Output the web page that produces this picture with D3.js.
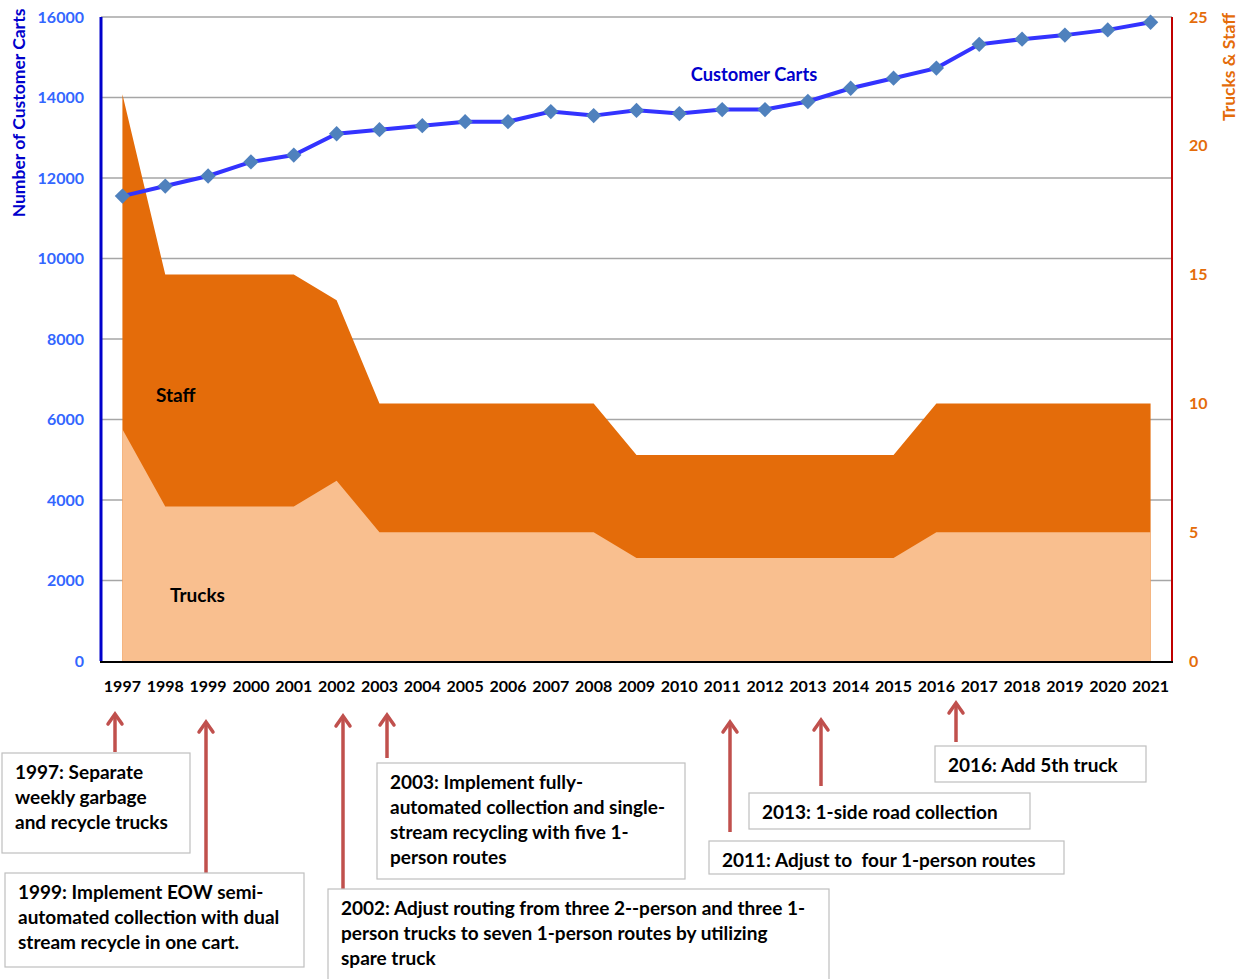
<!DOCTYPE html>
<html>
<head>
<meta charset="utf-8">
<script src="https://cdn.jsdelivr.net/npm/d3@7"></script>
<style>
  body { margin: 0; background: #fff; }
  svg text { font-family: Lato, "Open Sans", sans-serif; font-weight: 700; white-space: pre; }
</style>
</head>
<body>
<svg id="chart" width="1244" height="979"></svg>
<script>
const years = ['1997','1998','1999','2000','2001','2002','2003','2004','2005','2006','2007','2008',
    '2009','2010','2011','2012','2013','2014','2015','2016','2017','2018','2019','2020','2021'];
const customerCarts = [11550, 11800, 12050, 12400, 12570, 13100, 13200, 13300, 13400, 13400, 13650, 13550,
    13680, 13600, 13700, 13700, 13900, 14230, 14480, 14730, 15320, 15450, 15550, 15680, 15870];
const staff = [22, 15, 15, 15, 15, 14, 10, 10, 10, 10, 10, 10, 8, 8, 8, 8, 8, 8, 8, 10, 10, 10, 10, 10, 10];
const trucks = [9, 6, 6, 6, 6, 7, 5, 5, 5, 5, 5, 5, 4, 4, 4, 4, 4, 4, 4, 5, 5, 5, 5, 5, 5];
const cartTicks = [0, 2000, 4000, 6000, 8000, 10000, 12000, 14000, 16000];
const crewTicks = [0, 5, 10, 15, 20, 25];

// annotation boxes under the chart: arrow x, arrow top/bottom, box rect, text lines
const notes = [
    {ax: 115, ay1: 714, ay2: 752, box: [2, 753, 188, 100], lines: ['1997: Separate', 'weekly garbage', 'and recycle trucks']},
    {ax: 206, ay1: 722, ay2: 873, box: [5, 873, 299, 94], lines: ['1999: Implement EOW semi-', 'automated collection with dual', 'stream recycle in one cart.']},
    {ax: 343, ay1: 716, ay2: 889, box: [328, 889, 501, 100], lines: ['2002: Adjust routing from three 2--person and three 1-', 'person trucks to seven 1-person routes by utilizing', 'spare truck']},
    {ax: 387, ay1: 715, ay2: 758, box: [377, 763, 308, 116], lines: ['2003: Implement fully-', 'automated collection and single-', 'stream recycling with five 1-', 'person routes']},
    {ax: 730, ay1: 722, ay2: 832, box: [709, 841, 355, 33], lines: ['2011: Adjust to  four 1-person routes']},
    {ax: 821, ay1: 720, ay2: 786, box: [749, 793, 281, 36], lines: ['2013: 1-side road collection']},
    {ax: 956, ay1: 703, ay2: 742, box: [935, 746, 211, 36], lines: ['2016: Add 5th truck']}
];

const plot = {left: 101, right: 1172, top: 17, bottom: 661};

const svg = d3.select('#chart');

const x = d3.scaleBand()
    .domain(years)
    .range([plot.left, plot.right]);
const cx = d => x(d) + x.bandwidth() / 2;

const yCarts = d3.scaleLinear().domain([0, 16000]).range([plot.bottom, plot.top]);
const yCrew = d3.scaleLinear().domain([0, 25]).range([plot.bottom, plot.top]);

// gridlines
svg.append('g')
    .selectAll('line')
    .data(cartTicks.slice(1))
    .enter().append('line')
        .attr('x1', plot.left).attr('x2', plot.right)
        .attr('y1', d => yCarts(d)).attr('y2', d => yCarts(d))
        .attr('stroke', '#a6a6a6')
        .attr('stroke-width', 1.5);

// staff area (behind), trucks area (front)
const crewArea = values => d3.area()
    .x((d, i) => cx(years[i]))
    .y0(yCrew(0))
    .y1(d => yCrew(d))(values);

svg.append('path')
    .attr('d', crewArea(staff))
    .attr('fill', '#e46c0a');
svg.append('path')
    .attr('d', crewArea(trucks))
    .attr('fill', '#f9bf8f');

// axes
svg.append('line')
    .attr('x1', plot.left).attr('x2', plot.left)
    .attr('y1', plot.top).attr('y2', plot.bottom)
    .attr('stroke', '#0000cc').attr('stroke-width', 3);
svg.append('line')
    .attr('x1', plot.right).attr('x2', plot.right)
    .attr('y1', plot.top).attr('y2', plot.bottom + 1)
    .attr('stroke', '#c00000').attr('stroke-width', 2);
svg.append('line')
    .attr('x1', plot.left - 1).attr('x2', plot.right + 1)
    .attr('y1', plot.bottom + 1).attr('y2', plot.bottom + 1)
    .attr('stroke', '#000').attr('stroke-width', 2);

// left tick labels
svg.append('g')
    .selectAll('text')
    .data(cartTicks)
    .enter().append('text')
        .attr('x', 84)
        .attr('y', d => yCarts(d))
        .attr('dy', '0.35em')
        .attr('text-anchor', 'end')
        .attr('font-size', 16)
        .attr('fill', '#3366ff')
        .text(d => d);

// right tick labels
svg.append('g')
    .selectAll('text')
    .data(crewTicks)
    .enter().append('text')
        .attr('x', 1189)
        .attr('y', d => yCrew(d))
        .attr('dy', '0.35em')
        .attr('font-size', 16)
        .attr('fill', '#e46c0a')
        .text(d => d);

// x tick labels
svg.append('g')
    .selectAll('text')
    .data(years)
    .enter().append('text')
        .attr('x', d => cx(d))
        .attr('y', 692)
        .attr('text-anchor', 'middle')
        .attr('font-size', 16)
        .attr('fill', '#000')
        .text(d => d);

// axis titles
svg.append('text')
    .attr('transform', 'translate(25,113) rotate(-90)')
    .attr('text-anchor', 'middle')
    .attr('font-size', 17.5)
    .attr('fill', '#0000cc')
    .text('Number of Customer Carts');
svg.append('text')
    .attr('transform', 'translate(1235,67) rotate(-90)')
    .attr('text-anchor', 'middle')
    .attr('font-size', 17.5)
    .attr('fill', '#e46c0a')
    .text('Trucks & Staff');

// customer carts line
const line = d3.line()
    .x((d, i) => cx(years[i]))
    .y(d => yCarts(d));
svg.append('path')
    .attr('d', line(customerCarts))
    .attr('fill', 'none')
    .attr('stroke', '#3333ff')
    .attr('stroke-width', 4);
svg.append('g')
    .selectAll('path')
    .data(customerCarts)
    .enter().append('path')
        .attr('d', d3.symbol(d3.symbolDiamond2, 150))
        .attr('transform', (d, i) => 'translate(' + cx(years[i]) + ',' + yCarts(d) + ')')
        .attr('fill', '#4f81bd');

// series labels
svg.append('text').attr('x', 754).attr('y', 81).attr('text-anchor', 'middle')
    .attr('font-size', 18.3).attr('fill', '#0000cc').text('Customer Carts');
svg.append('text').attr('x', 156).attr('y', 402)
    .attr('font-size', 19).attr('fill', '#000').text('Staff');
svg.append('text').attr('x', 170).attr('y', 602)
    .attr('font-size', 19).attr('fill', '#000').text('Trucks');

// annotations
const noteGroups = svg.append('g')
    .selectAll('g')
    .data(notes)
    .enter().append('g');

noteGroups.append('line')
    .attr('x1', d => d.ax).attr('x2', d => d.ax)
    .attr('y1', d => d.ay2).attr('y2', d => d.ay1 + 2)
    .attr('stroke', '#c0504d')
    .attr('stroke-width', 3.5);

noteGroups.append('path')
    .attr('d', d => 'M' + (d.ax - 7) + ',' + (d.ay1 + 10) + 'L' + d.ax + ',' + d.ay1
        + 'L' + (d.ax + 7) + ',' + (d.ay1 + 10))
    .attr('fill', 'none')
    .attr('stroke', '#c0504d')
    .attr('stroke-width', 3.5)
    .attr('stroke-linecap', 'round');

noteGroups.append('rect')
    .attr('x', d => d.box[0]).attr('y', d => d.box[1])
    .attr('width', d => d.box[2]).attr('height', d => d.box[3])
    .attr('fill', '#fff')
    .attr('stroke', '#bfbfbf')
    .attr('stroke-width', 1.2);

noteGroups.each(function(d) {
    const t = d3.select(this).append('text')
        .attr('font-size', 19)
        .attr('fill', '#000');
    d.lines.forEach((ln, i) => {
        t.append('tspan')
            .attr('x', d.box[0] + 13)
            .attr('y', d.box[1] + 26 + i * 25)
            .text(ln);
    });
});
</script>
</body>
</html>
